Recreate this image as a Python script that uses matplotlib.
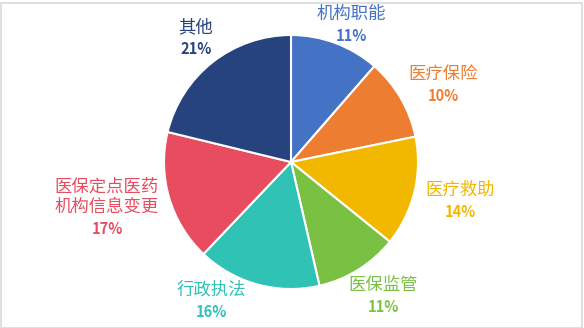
import matplotlib.pyplot as plt
from matplotlib.patches import Rectangle

plt.rcParams['font.family'] = ['Noto Sans CJK SC', 'DejaVu Sans']

# data
categories = ['机构职能', '医疗保险', '医疗救助', '医保监管', '行政执法', '医保定点医药\n机构信息变更', '其他']
values = [11.4, 10.4, 14.0, 10.6, 15.7, 16.7, 21.2]
colors = ['#4472C4', '#ED7D31', '#F2B800', '#7AC143', '#2FC2B5', '#E84C5F', '#26437E']

# label layout (pixel coords from top-left: x, y of name, y of percent)
label_pos = [(351, 14, 36), (443, 74, 96), (460, 190, 212), (383, 285, 307),
             (211, 290, 312), (107, 197, 229), (196, 27, 49)]

W, H = 584, 328
fig = plt.figure(figsize=(W / 100, H / 100), dpi=100)
ax = fig.add_axes([0, 0, 1, 1])

ax.pie(values, colors=colors, startangle=90, counterclock=False,
       center=(291, H - 162), radius=127,
       wedgeprops=dict(edgecolor='white', linewidth=1.5))

ax.set_xlim(0, W)
ax.set_ylim(0, H)
ax.set_aspect('equal')
ax.axis('off')

total = sum(values)
for cat, v, c, (x, yn, yp) in zip(categories, values, colors, label_pos):
    ax.text(x, H - yn, cat, color=c, fontsize=12.5, fontweight='medium',
            ha='center', va='center', linespacing=1.15)
    ax.text(x, H - yp, f'{round(100 * v / total)}%', color=c, fontsize=10.5,
            fontweight='bold', ha='center', va='center')

ax.add_patch(Rectangle((0.5, 0.5), W - 3, H - 3, fill=False, edgecolor='#D9D9D9', linewidth=1.2))

fig.savefig('out.png', dpi=100)
